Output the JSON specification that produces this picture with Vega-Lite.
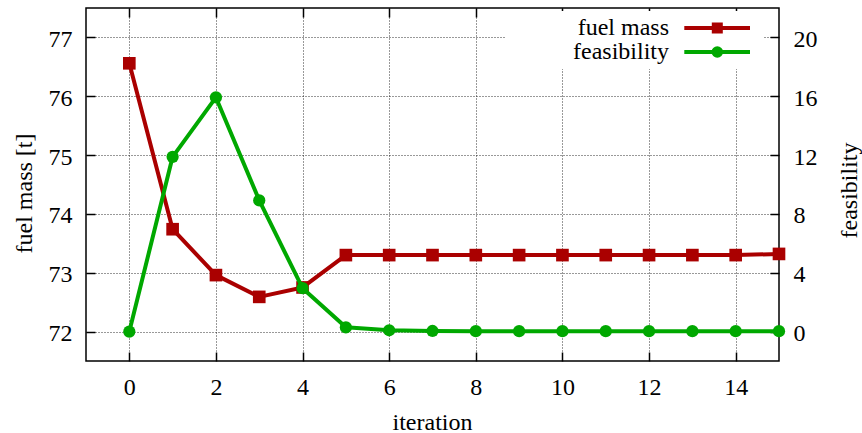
{
  "$schema": "https://vega.github.io/schema/vega-lite/v6.json",
  "width": 693,
  "height": 353,
  "autosize": "none",
  "padding": {"left": 86, "top": 8, "right": 83, "bottom": 72},
  "background": "white",
  "config": {
    "view": {"stroke": "#000", "strokeWidth": 1.5},
    "font": "'Liberation Serif', 'DejaVu Serif', serif",
    "axis": {
      "labelFont": "'Liberation Serif', 'DejaVu Serif', serif",
      "titleFont": "'Liberation Serif', 'DejaVu Serif', serif",
      "labelFontSize": 24,
      "titleFontSize": 24,
      "labelColor": "#000",
      "titleColor": "#000",
      "titleFontWeight": "normal",
      "domain": false,
      "tickColor": "#000",
      "tickWidth": 1.5,
      "tickSize": -9,
      "gridColor": "#000",
      "gridDash": [1, 2],
      "gridOpacity": 0.8,
      "gridWidth": 1,
      "labelOverlap": false,
      "labelFlush": false
    },
    "legend": {
      "orient": "none",
      "legendX": 419,
      "legendY": 3,
      "padding": 5,
      "fillColor": "white",
      "labelFont": "'Liberation Serif', 'DejaVu Serif', serif",
      "labelFontSize": 24,
      "labelColor": "#000",
      "symbolSize": 400,
      "symbolStrokeWidth": 4,
      "rowPadding": 0,
      "labelLimit": 300
    }
  },
  "data": {
    "values": [
      {"iteration": 0, "fuel": 76.56, "feas": 0},
      {"iteration": 1, "fuel": 73.74, "feas": 11.88},
      {"iteration": 2, "fuel": 72.96, "feas": 15.92},
      {"iteration": 3, "fuel": 72.59, "feas": 8.92},
      {"iteration": 4, "fuel": 72.75, "feas": 2.95},
      {"iteration": 5, "fuel": 73.30, "feas": 0.29},
      {"iteration": 6, "fuel": 73.30, "feas": 0.09},
      {"iteration": 7, "fuel": 73.30, "feas": 0.04},
      {"iteration": 8, "fuel": 73.30, "feas": 0.03},
      {"iteration": 9, "fuel": 73.30, "feas": 0.03},
      {"iteration": 10, "fuel": 73.30, "feas": 0.03},
      {"iteration": 11, "fuel": 73.30, "feas": 0.03},
      {"iteration": 12, "fuel": 73.30, "feas": 0.03},
      {"iteration": 13, "fuel": 73.30, "feas": 0.03},
      {"iteration": 14, "fuel": 73.30, "feas": 0.03},
      {"iteration": 15, "fuel": 73.32, "feas": 0.03}
    ]
  },
  "layer": [
    {
      "mark": {
        "type": "line",
        "strokeWidth": 4,
        "strokeJoin": "round",
        "point": {"shape": "square", "size": 160, "filled": true, "opacity": 1}
      },
      "encoding": {
        "x": {
          "field": "iteration",
          "type": "quantitative",
          "scale": {"domain": [-1, 15], "nice": false, "zero": false},
          "axis": {
            "orient": "bottom",
            "values": [0, 2, 4, 6, 8, 10, 12, 14],
            "grid": true,
            "title": "iteration",
            "labelBaseline": "alphabetic",
            "labelPadding": 42,
            "titleX": 346,
            "titleY": 68,
            "titleBaseline": "alphabetic",
            "titleAlign": "center"
          }
        },
        "y": {
          "field": "fuel",
          "type": "quantitative",
          "scale": {"domain": [71.5, 77.5], "nice": false, "zero": false},
          "axis": {
            "orient": "left",
            "values": [72, 73, 74, 75, 76, 77],
            "grid": true,
            "title": "fuel mass [t]",
            "labelBaseline": "alphabetic",
            "labelOffset": 9,
            "labelPadding": 23,
            "titleAngle": -90,
            "titleX": -55,
            "titleY": 185,
            "titleBaseline": "alphabetic",
            "titleAlign": "center"
          }
        },
        "color": {
          "datum": "fuel mass",
          "type": "nominal",
          "scale": {"domain": ["fuel mass", "feasibility"], "range": ["#aa0000", "#00a800"]},
          "legend": {
            "title": null,
            "encode": {
              "symbols": {
                "update": {
                  "shape": {"signal": "datum.value === 'fuel mass' ? 'M16.23,0H22.8M19.18,-0.35H19.88V0.35H19.18Z' : 'M16.23,0H22.8M19.91,0A0.38,0.38 0 1,1 19.15,0A0.38,0.38 0 1,1 19.91,0Z'"},
                  "size": {"value": 400},
                  "strokeWidth": {"value": 4},
                  "fill": {"signal": "datum.value === 'fuel mass' ? '#aa0000' : '#00a800'"},
                  "stroke": {"signal": "datum.value === 'fuel mass' ? '#aa0000' : '#00a800'"},
                  "opacity": {"value": 1},
                  "fillOpacity": {"value": 1},
                  "strokeOpacity": {"value": 1}
                }
              },
              "labels": {
                "update": {
                  "x": {"value": 159},
                  "align": {"value": "right"}
                }
              }
            }
          }
        }
      }
    },
    {
      "mark": {
        "type": "line",
        "strokeWidth": 4,
        "strokeJoin": "round",
        "point": {"shape": "circle", "size": 150, "filled": true, "opacity": 1}
      },
      "encoding": {
        "x": {
          "field": "iteration",
          "type": "quantitative",
          "scale": {"domain": [-1, 15], "nice": false, "zero": false},
          "axis": {
            "orient": "top",
            "values": [0, 2, 4, 6, 8, 10, 12, 14],
            "grid": false,
            "labels": false,
            "title": null
          }
        },
        "y": {
          "field": "feas",
          "type": "quantitative",
          "scale": {"domain": [-2, 22], "nice": false, "zero": false},
          "axis": {
            "orient": "right",
            "values": [0, 4, 8, 12, 16, 20],
            "grid": false,
            "title": "feasibility",
            "labelBaseline": "alphabetic",
            "labelOffset": 9,
            "labelPadding": 23,
            "titleAngle": -90,
            "titleX": 77,
            "titleY": 182,
            "titleBaseline": "alphabetic",
            "titleAlign": "center"
          }
        },
        "color": {"datum": "feasibility", "type": "nominal"}
      }
    }
  ],
  "resolve": {
    "scale": {"y": "independent"},
    "axis": {"x": "independent", "y": "independent"}
  }
}
